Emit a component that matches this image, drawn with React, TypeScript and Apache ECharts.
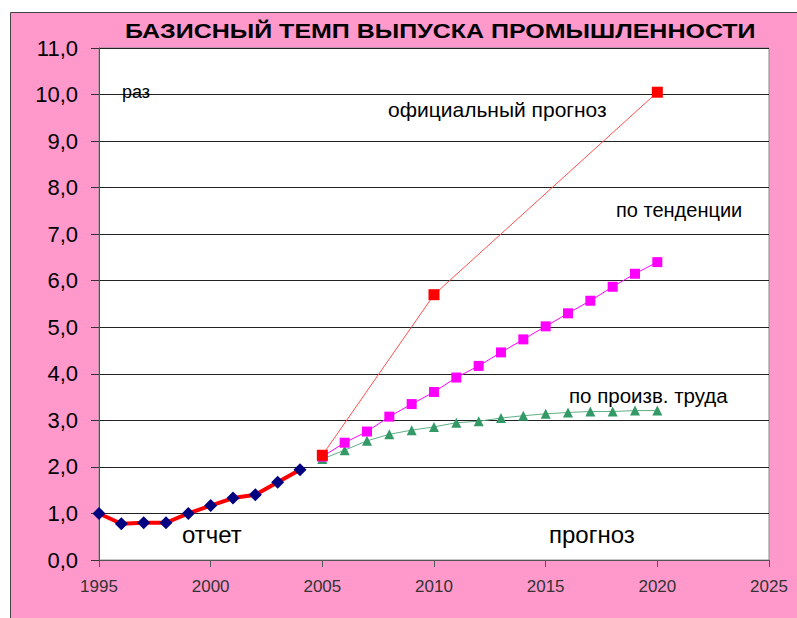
import React, { useEffect, useRef } from "react";
import * as echarts from "echarts";

const reportYears = [1995, 1996, 1997, 1998, 1999, 2000, 2001, 2002, 2003, 2004];
const reportValues = [1.0, 0.78, 0.8, 0.8, 1.0, 1.17, 1.33, 1.4, 1.67, 1.94];

const officialYears = [2005, 2010, 2020];
const officialValues = [2.25, 5.7, 10.05];

const forecastYears = [2005, 2006, 2007, 2008, 2009, 2010, 2011, 2012, 2013, 2014, 2015, 2016, 2017, 2018, 2019, 2020];
const trendValues = [2.22, 2.52, 2.76, 3.08, 3.35, 3.61, 3.92, 4.17, 4.46, 4.74, 5.02, 5.3, 5.57, 5.87, 6.15, 6.4];
const laborValues = [2.17, 2.36, 2.56, 2.7, 2.79, 2.86, 2.95, 2.98, 3.05, 3.1, 3.14, 3.17, 3.19, 3.19, 3.21, 3.21];

const yTicks = [0, 1, 2, 3, 4, 5, 6, 7, 8, 9, 10, 11];

const pairs = (xs: number[], ys: number[]) => xs.map((x, i) => [x, ys[i]]);

export default function App() {
  const ref = useRef<HTMLDivElement>(null);
  useEffect(() => {
    if (!ref.current) return;
    const chart = echarts.init(ref.current, null, { renderer: "svg" });
    const font = "'Liberation Sans', Arial, sans-serif";
    const label = (text: string, x: number, y: number, size: number, scaleX = 1) => ({
      type: "text",
      x,
      y,
      scaleX,
      z: 10,
      silent: true,
      style: {
        text,
        x: 0,
        y: 0,
        font: `${size}px ${font}`,
        fill: "#000000",
        align: "left",
        verticalAlign: "middle",
      },
    });
    chart.setOption({
      animation: false,
      backgroundColor: "#ffffff",
      textStyle: { fontFamily: font },
      graphic: [
        {
          type: "rect",
          z: -10,
          silent: true,
          shape: { x: 10.5, y: 12.5, width: 800, height: 620 },
          style: { fill: "#FF99CC", stroke: "#444444", lineWidth: 1 },
        },
        {
          type: "text",
          x: 125,
          y: 31,
          scaleX: 1.19,
          silent: true,
          style: {
            text: "БАЗИСНЫЙ ТЕМП ВЫПУСКА ПРОМЫШЛЕННОСТИ",
            x: 0,
            y: 0,
            font: `bold 21px ${font}`,
            fill: "#000000",
            align: "left",
            verticalAlign: "middle",
          },
        },
        label("раз", 122, 92, 18),
        label("официальный прогноз", 388, 109, 21),
        label("по тенденции", 616, 210, 20),
        label("по произв. труда", 569, 395, 20.5),
        label("отчет", 182, 534, 24),
        label("прогноз", 549, 534, 24),
      ],
      grid: {
        left: 99,
        right: 797 - 769,
        top: 48,
        bottom: 618 - 560,
        show: true,
        backgroundColor: "#ffffff",
        borderColor: "#8c8c8c",
        borderWidth: 1,
      },
      xAxis: {
        type: "value",
        min: 1995,
        max: 2025,
        interval: 5,
        axisLine: { show: true, onZero: false, lineStyle: { color: "#555555", width: 1 } },
        axisTick: { show: true, length: 7, lineStyle: { color: "#555555" } },
        axisLabel: {
          color: "#333333",
          fontSize: 17,
          margin: 18,
          fontFamily: font,
          formatter: (v: number) => String(v),
        },
        splitLine: { show: false },
      },
      yAxis: {
        type: "value",
        min: yTicks[0],
        max: yTicks[yTicks.length - 1],
        interval: 1,
        axisLine: { show: true, lineStyle: { color: "#555555", width: 1 } },
        axisTick: { show: true, length: 8, lineStyle: { color: "#333333" } },
        axisLabel: {
          color: "#000000",
          fontSize: 22,
          margin: 21,
          fontFamily: font,
          formatter: (v: number) => v.toFixed(1).replace(".", ","),
        },
        splitLine: { show: true, lineStyle: { color: "#222222", width: 1 } },
      },
      series: [
        {
          type: "line",
          name: "отчет",
          data: pairs(reportYears, reportValues),
          lineStyle: { color: "#FF0000", width: 4 },
          symbol: "diamond",
          symbolSize: 13,
          itemStyle: { color: "#000080" },
          z: 3,
        },
        {
          type: "line",
          name: "по произв. труда",
          data: pairs(forecastYears, laborValues),
          lineStyle: { color: "#5FAF85", width: 1 },
          symbol: "triangle",
          symbolSize: 10,
          itemStyle: { color: "#339966" },
          z: 3,
        },
        {
          type: "line",
          name: "по тенденции",
          data: pairs(forecastYears, trendValues),
          lineStyle: { color: "#FF00FF", width: 1 },
          symbol: "rect",
          symbolSize: 10,
          itemStyle: { color: "#FF00FF" },
          z: 4,
        },
        {
          type: "line",
          name: "официальный прогноз",
          data: pairs(officialYears, officialValues),
          lineStyle: { color: "#FF5050", width: 1 },
          symbol: "rect",
          symbolSize: 11,
          itemStyle: { color: "#FF0000" },
          z: 5,
        },
      ],
    });
    return () => chart.dispose();
  }, []);
  return (
    <div
      ref={ref}
      style={{ position: "fixed", left: 0, top: 0, width: 797, height: 618 }}
    />
  );
}
